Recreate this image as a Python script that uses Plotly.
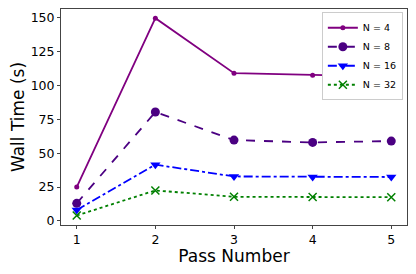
import plotly.graph_objects as go

passes = [1, 2, 3, 4, 5]
n4 = [25.0, 149.5, 109.0, 107.5, 106.5]
n8 = [13.0, 80.3, 59.6, 57.9, 58.9]
n16 = [8.0, 41.5, 32.8, 32.4, 32.4]
n32 = [4.0, 22.5, 17.8, 17.6, 17.5]
names = ["N = 4", "N = 8", "N = 16", "N = 32"]

fig = go.Figure()
fig.add_trace(go.Scatter(x=passes, y=n4, name=names[0], mode="lines+markers",
                         line=dict(color="#800080", width=1.8, dash="solid"),
                         marker=dict(symbol="circle", size=5, color="#800080")))
fig.add_trace(go.Scatter(x=passes, y=n8, name=names[1], mode="lines+markers",
                         line=dict(color="#4B0082", width=1.8, dash="dash"),
                         marker=dict(symbol="circle", size=9, color="#4B0082")))
fig.add_trace(go.Scatter(x=passes, y=n16, name=names[2], mode="lines+markers",
                         line=dict(color="#0000FF", width=1.8, dash="dashdot"),
                         marker=dict(symbol="triangle-down", size=9, color="#0000FF")))
fig.add_trace(go.Scatter(x=passes, y=n32, name=names[3], mode="lines+markers",
                         line=dict(color="#008000", width=1.8, dash="dot"),
                         marker=dict(symbol="x-thin", size=8, color="#008000",
                                     line=dict(color="#008000", width=1.5))))

axis_common = dict(showgrid=False, zeroline=False, showline=True, mirror=True,
                   linecolor="#444", linewidth=1, ticks="outside", ticklen=3,
                   tickcolor="#444", tickfont=dict(size=12.5, color="#000"),
                   automargin=True)
# page body adds an 8px offset, so the figure is 400x258
fig.update_layout(
    width=400, height=258,
    margin=dict(l=53, r=1, t=1, b=41, autoexpand=False),
    paper_bgcolor="white", plot_bgcolor="white",
    font=dict(family="DejaVu Sans", color="#000"),
    xaxis=dict(range=[0.8, 5.2], tickvals=passes,
               title=dict(text="Pass Number", font=dict(size=17), standoff=5),
               **axis_common),
    yaxis=dict(range=[-3.0, 156.3], tickvals=[0, 25, 50, 75, 100, 125, 150],
               title=dict(text="Wall Time (s)", font=dict(size=17), standoff=6),
               **axis_common),
    legend=dict(x=0.988, y=0.985, xanchor="right", yanchor="top",
                bgcolor="white", bordercolor="#ccc", borderwidth=1,
                font=dict(size=9.5), itemwidth=30),
    showlegend=True,
)
fig.write_html("out.html")
